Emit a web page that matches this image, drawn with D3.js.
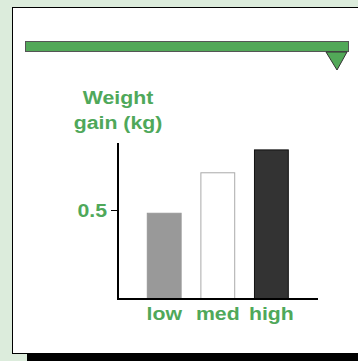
<!DOCTYPE html>
<html>
<head>
<meta charset="utf-8">
<script src="https://cdn.jsdelivr.net/npm/d3@7"></script>
<style>
  body { margin: 0; background: #dcecdc; }
  svg { display: block; }
  text { font-family: "Liberation Sans", Arial, sans-serif; font-weight: bold; fill: #4fa85a; }
</style>
</head>
<body>
<div id="canvas"></div>
<script>
"use strict"

let svgWidth = 358;
let svgHeight = 361;

/* data */
let categories = ["low", "med", "high"];
let values = [0.49, 0.72, 0.85];
let fills = ["#999999", "#ffffff", "#333333"];
let strokes = ["#999999", "#aaaaaa", "#111111"];
let yTicks = [0.5];

let fontSize = 19;
let stretch = 1.12; // text in the original is drawn a bit wide

let svg = d3.select("#canvas")
    .append("svg")
    .attr("width", svgWidth)
    .attr("height", svgHeight);

/* bottom shadow */
svg.append("rect")
    .attr("x", 27)
    .attr("y", 354)
    .attr("width", svgWidth - 27)
    .attr("height", 7)
    .attr("fill", "black");

/* white panel */
svg.append("rect")
    .attr("x", 12.5)
    .attr("y", 7.5)
    .attr("width", 400)
    .attr("height", 346)
    .attr("fill", "white")
    .attr("stroke", "black")
    .attr("stroke-width", 1);

/* green slider bar with pointer */
svg.append("rect")
    .attr("x", 25.5)
    .attr("y", 41.5)
    .attr("width", 323)
    .attr("height", 10)
    .attr("fill", "#52a858")
    .attr("stroke", "#555")
    .attr("stroke-width", 1);

svg.append("path")
    .attr("d", "M326,52 L347,52 L337,70 Z")
    .attr("fill", "#52a858")
    .attr("stroke", "#333")
    .attr("stroke-width", 1);

/* scales */
let xScale = d3.scaleBand()
    .domain(categories)
    .range([120, 315.6])
    .paddingInner(0.35)
    .paddingOuter(0.5);

let yScale = d3.scaleLinear()
    .domain([0, 1])
    .range([299, 123]);

/* bars */
svg.selectAll("rect.bar")
    .data(values)
    .join("rect")
    .attr("class", "bar")
    .attr("x", (d, i) => xScale(categories[i]) + 0.5)
    .attr("y", d => yScale(d) + 0.5)
    .attr("width", xScale.bandwidth() - 1)
    .attr("height", d => yScale(0) - yScale(d))
    .attr("fill", (d, i) => fills[i])
    .attr("stroke", (d, i) => strokes[i])
    .attr("stroke-width", 1);

/* helper for stretched labels */
function label(x, y, txt, anchor) {
    svg.append("text")
        .attr("transform", "translate(" + x + "," + y + ") scale(" + stretch + ",1)")
        .attr("text-anchor", anchor)
        .attr("font-size", fontSize)
        .text(txt);
}

/* y axis */
svg.selectAll("line.tick")
    .data(yTicks)
    .join("line")
    .attr("class", "tick")
    .attr("x1", 111).attr("x2", 118)
    .attr("y1", d => yScale(d) - 0.5)
    .attr("y2", d => yScale(d) - 0.5)
    .attr("stroke", "black");

yTicks.forEach(function(t) {
    label(107, yScale(t) + 6, d3.format(".1f")(t), "end");
});

svg.append("line")
    .attr("x1", 118).attr("y1", 143)
    .attr("x2", 118).attr("y2", 300)
    .attr("stroke", "black")
    .attr("stroke-width", 2);

svg.append("line")
    .attr("x1", 117).attr("y1", 299)
    .attr("x2", 318).attr("y2", 299)
    .attr("stroke", "black")
    .attr("stroke-width", 2);

/* category labels */
categories.forEach(function(c) {
    label(xScale(c) + xScale.bandwidth() / 2, 320, c, "middle");
});

/* axis title */
label(118, 103.5, "Weight", "middle");
label(118, 128.5, "gain (kg)", "middle");
</script>
</body>
</html>
